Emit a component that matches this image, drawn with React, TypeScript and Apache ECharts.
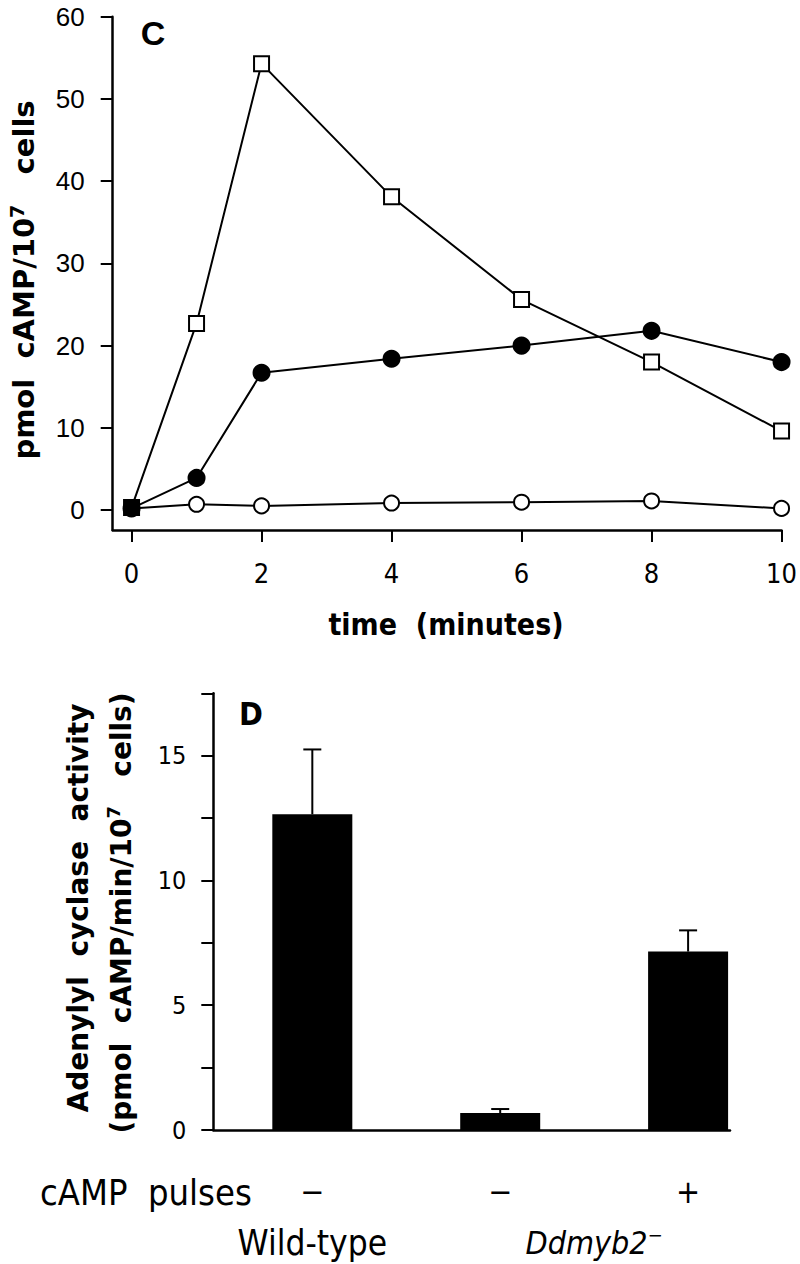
import React, { useEffect, useRef } from "react";
import * as echarts from "echarts";

// ---- Panel C data ----
const times = [0, 1, 2, 4, 6, 8, 10];
const openSquares = [0.3, 22.7, 54.3, 38.1, 25.6, 18.0, 9.6];
const filledCircles = [0.2, 3.9, 16.7, 18.4, 20.0, 21.8, 18.0];
const openCircles = [0.2, 0.7, 0.5, 0.85, 0.95, 1.1, 0.2];
const yTicksC = [0, 10, 20, 30, 40, 50, 60];
const xTicksC = [0, 2, 4, 6, 8, 10];

// ---- Panel D data ----
const barPositions = [0, 1, 2];
const pulses = ["\u2212", "\u2212", "+"];
const activity = [12.65, 0.68, 7.15];
const activityErr = [2.6, 0.16, 0.85];
const groupPositions = [0, 1.5];
const groups = ["Wild-type", "Ddmyb2"];
const yLabelsD = [0, 5, 10, 15];
const yTicksD = [0, 2.5, 5, 7.5, 10, 12.5, 15, 17.5];

const HELV = "'Liberation Sans', Arial, Helvetica, sans-serif";
const WIDE = "'DejaVu Sans', 'Liberation Sans', sans-serif";
const NARROW = "'Liberation Sans Narrow', 'DejaVu Sans Condensed', 'Liberation Sans', sans-serif";

export default function App() {
  const ref = useRef<HTMLDivElement>(null);
  useEffect(() => {
    if (!ref.current) return;
    const chart = echarts.init(ref.current, undefined, { renderer: "svg" });
    const axisLine = { show: true, onZero: false, lineStyle: { color: "#000", width: 2.5 } };
    const axisTick = { show: true, length: 12, lineStyle: { color: "#000", width: 2 } };

    const lineSeries = (name: string, vals: number[], symbol: string, filled: boolean, size: number) => ({
      name,
      type: "line",
      xAxisIndex: 0,
      yAxisIndex: 0,
      data: times.map((t, i) => [t, vals[i]]),
      symbol,
      symbolSize: size,
      showAllSymbol: true,
      lineStyle: { color: "#000", width: 2 },
      itemStyle: { color: filled ? "#000" : "#fff", borderColor: "#000", borderWidth: 2, opacity: 1 },
      z: 3,
    });

    const squares: any = lineSeries("squares", openSquares, "rect", false, 15);
    squares.data = squares.data.map((d: number[], i: number) =>
      i === 0 ? { value: d, itemStyle: { color: "#000" } } : d
    );
    squares.z = 5;

    const option: any = {
      animation: false,
      backgroundColor: "#fff",
      grid: [
        { left: 112.7, right: 15.3, top: 16.8, bottom: 734, containLabel: false },
        { left: 213.3, right: 70, top: 693.3, bottom: 134, containLabel: false },
      ],
      xAxis: [
        {
          type: "value",
          gridIndex: 0,
          min: -0.29,
          max: 10,
          axisLine,
          axisTick: { ...axisTick, customValues: xTicksC },
          axisLabel: {
            customValues: xTicksC,
            margin: 30,
            fontSize: 27,
            fontFamily: NARROW,
            color: "#000",
          },
          splitLine: { show: false },
        },
        {
          type: "value",
          gridIndex: 1,
          min: -0.527,
          max: 2.223,
          axisLine,
          axisTick: { show: false },
          axisLabel: {
            customValues: barPositions,
            formatter: (v: number) => pulses[Math.round(v)],
            margin: 46,
            fontSize: 32,
            fontFamily: NARROW,
            color: "#000",
          },
          splitLine: { show: false },
        },
        {
          type: "value",
          gridIndex: 1,
          min: -0.527,
          max: 2.223,
          position: "bottom",
          axisLine: { show: false, onZero: false },
          axisTick: { show: false },
          axisLabel: {
            customValues: groupPositions,
            formatter: (v: number) => (v < 1 ? `{n|${groups[0]}}` : `{i|${groups[1]}}{s|\u2212}`),
            margin: 95,
            rich: {
              n: { fontSize: 35, fontFamily: NARROW, color: "#000" },
              i: { fontSize: 32, fontFamily: NARROW, fontStyle: "italic", color: "#000" },
              s: { fontSize: 20, fontFamily: NARROW, color: "#000", padding: [0, 0, 16, 0] },
            },
          },
          splitLine: { show: false },
        },
      ],
      yAxis: [
        {
          type: "value",
          gridIndex: 0,
          min: -2.43,
          max: 60,
          axisLine,
          axisTick: { ...axisTick, customValues: yTicksC },
          axisLabel: {
            customValues: yTicksC,
            margin: 28,
            fontSize: 26,
            fontFamily: HELV,
            color: "#000",
          },
          splitLine: { show: false },
        },
        {
          type: "value",
          gridIndex: 1,
          min: 0,
          max: 17.5,
          axisLine,
          axisTick: { ...axisTick, customValues: yTicksD },
          axisLabel: {
            customValues: yLabelsD,
            margin: 27,
            fontSize: 25,
            fontFamily: NARROW,
            color: "#000",
          },
          splitLine: { show: false },
        },
      ],
      series: [
        lineSeries("openCircles", openCircles, "circle", false, 15),
        lineSeries("filledCircles", filledCircles, "circle", true, 16),
        squares,
        {
          type: "bar",
          xAxisIndex: 1,
          yAxisIndex: 1,
          data: barPositions.map((p, i) => [p, activity[i]]),
          barWidth: 80,
          itemStyle: { color: "#000" },
          z: 2,
        },
        {
          type: "custom",
          xAxisIndex: 1,
          yAxisIndex: 1,
          data: barPositions.map((p, i) => [p, activity[i], activityErr[i]]),
          renderItem: (params: any, api: any) => {
            const x = api.value(0);
            const v = api.value(1);
            const e = api.value(2);
            const p0 = api.coord([x, v]);
            const p1 = api.coord([x, v + e]);
            const style = { stroke: "#000", lineWidth: 2 };
            return {
              type: "group",
              children: [
                { type: "line", shape: { x1: p0[0], y1: p0[1], x2: p1[0], y2: p1[1] }, style },
                { type: "line", shape: { x1: p1[0] - 9, y1: p1[1], x2: p1[0] + 9, y2: p1[1] }, style },
              ],
            };
          },
          z: 4,
        },
      ],
      graphic: [
        {
          type: "text",
          x: 153,
          y: 33,
          style: { text: "C", fontSize: 34, fontWeight: "bold", fontFamily: HELV, fill: "#000", textAlign: "center", textVerticalAlign: "middle" },
        },
        {
          type: "text",
          x: 251,
          y: 714,
          style: { text: "D", fontSize: 32, fontWeight: "bold", fontFamily: NARROW, fill: "#000", textAlign: "center", textVerticalAlign: "middle" },
        },
        {
          type: "text",
          x: 24,
          y: 280,
          rotation: Math.PI / 2,
          style: {
            text: "{t|pmol  cAMP/10}{s|7}{t|   cells}",
            rich: {
              t: { fontSize: 29, fontWeight: "bold", fontFamily: WIDE, fill: "#000" },
              s: { fontSize: 19, fontWeight: "bold", fontFamily: WIDE, fill: "#000", padding: [0, 0, 15, 0] },
            },
            textAlign: "center",
            textVerticalAlign: "middle",
          },
        },
        {
          type: "text",
          x: 78,
          y: 908,
          rotation: Math.PI / 2,
          style: {
            text: "Adenylyl  cyclase  activity",
            fontSize: 28,
            fontWeight: "bold",
            fontFamily: WIDE,
            fill: "#000",
            textAlign: "center",
            textVerticalAlign: "middle",
          },
        },
        {
          type: "text",
          x: 121,
          y: 913,
          rotation: Math.PI / 2,
          style: {
            text: "{t|(pmol  cAMP/min/10}{s|7}{t|   cells)}",
            rich: {
              t: { fontSize: 28, fontWeight: "bold", fontFamily: WIDE, fill: "#000" },
              s: { fontSize: 18, fontWeight: "bold", fontFamily: WIDE, fill: "#000", padding: [0, 0, 15, 0] },
            },
            textAlign: "center",
            textVerticalAlign: "middle",
          },
        },
        {
          type: "text",
          x: 446,
          y: 624,
          style: { text: "time  (minutes)", fontSize: 30, fontWeight: "bold", fontFamily: NARROW, fill: "#000", textAlign: "center", textVerticalAlign: "middle" },
        },
        {
          type: "text",
          x: 40,
          y: 1192,
          style: { text: "cAMP  pulses", fontSize: 36, fontFamily: NARROW, fill: "#000", textAlign: "left", textVerticalAlign: "middle" },
        },
      ],
    };
    chart.setOption(option);
    return () => chart.dispose();
  }, []);
  return <div ref={ref} style={{ position: "absolute", left: 0, top: 0, width: 800, height: 1264 }} />;
}
